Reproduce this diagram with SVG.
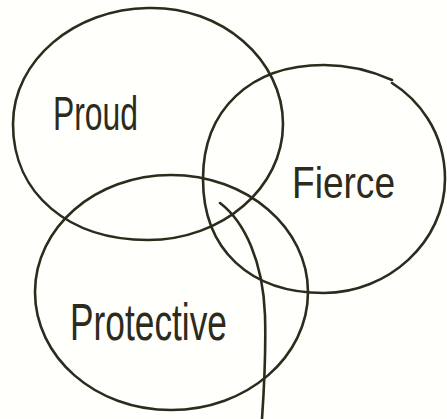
<svg xmlns="http://www.w3.org/2000/svg" width="447" height="419" viewBox="0 0 447 419">
<style>
.ring{fill:none;stroke:#2d2b1b;stroke-width:2.6;stroke-linecap:round;stroke-linejoin:round}
.lbl{font-family:"Liberation Sans","DejaVu Sans",sans-serif;fill:#2d2b1b}
</style>
<rect width="447" height="419" fill="#fffffc"/>
<g id="connectors">
<path class="ring" d="M220,203 C245,222 263,262 265,315 C266,350 264,390 262,419"/>
</g>
<g id="proud">
<path class="ring" d="M148,8 C222,6 283,60 283,124 C283,188 222,240 148,240 C70,240 13,195 13,124 C13,60 75,9 148,8 Z"/>
<text class="lbl" x="53" y="130" font-size="48" textLength="85" lengthAdjust="spacingAndGlyphs">Proud</text>
</g>
<g id="fierce">
<path class="ring" d="M392,83 C416,98 445,130 445,179 C445,242 388,293 324,293 C250,293 203,250 203,179 C203,110 250,65 324,65 C350,65 374,72 392,80"/>
<text class="lbl" x="292" y="198" font-size="44" textLength="103" lengthAdjust="spacingAndGlyphs">Fierce</text>
</g>
<g id="protective">
<path class="ring" d="M171,175 C247,175 308,228 308,292 C308,357 247,410 171,410 C95,410 35,357 35,292 C35,228 95,175 171,175 Z"/>
<text class="lbl" x="70" y="340" font-size="52" textLength="157" lengthAdjust="spacingAndGlyphs">Protective</text>
</g>
</svg>
